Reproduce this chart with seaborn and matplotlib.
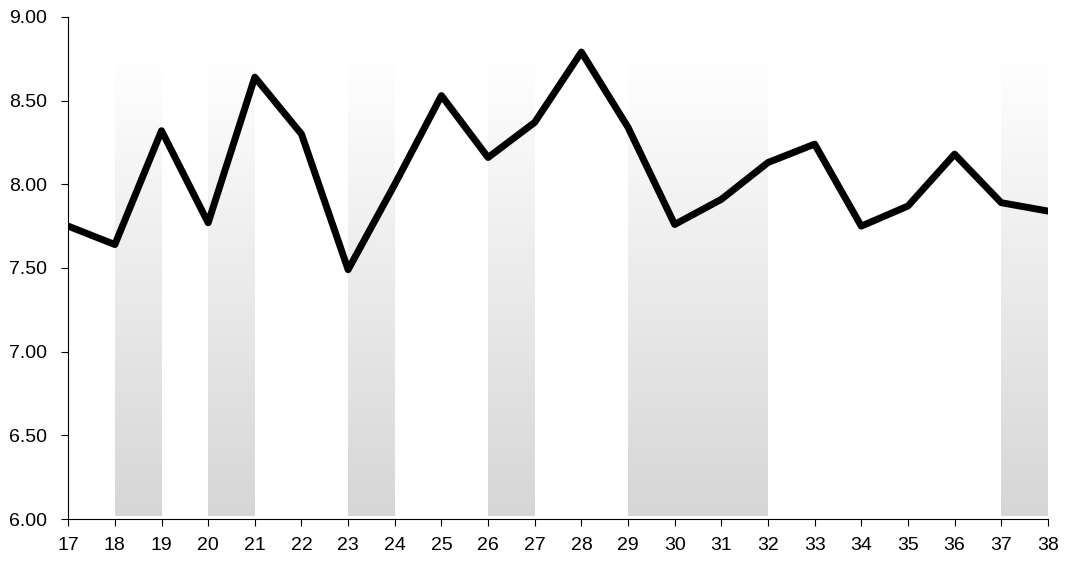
import numpy as np
import pandas as pd
import seaborn as sns
from matplotlib import pyplot as plt
from matplotlib.colors import LinearSegmentedColormap

days = list(range(17, 39))
values = [7.75, 7.64, 8.32, 7.77, 8.64, 8.30, 7.49, 8.00, 8.53, 8.16, 8.37,
          8.79, 8.34, 7.76, 7.91, 8.13, 8.24, 7.75, 7.87, 8.18, 7.89, 7.84]
bands = [(18, 19), (20, 21), (23, 24), (26, 27), (29, 32), (37, 38)]
band_bottom = 6.02
band_top = 8.76

sns.set_style("white")
plt.rcParams['font.family'] = ['Liberation Sans', 'DejaVu Sans']

fig = plt.figure(figsize=(10.66, 5.63), dpi=100)
ax = fig.add_axes([0.064, 0.078, 0.919, 0.892])

# gradient bands, grey at the bottom fading to white at top
cmap = LinearSegmentedColormap.from_list("fade", ["#d6d6d6", "#ffffff"])
grad = np.linspace(0, 1, 256).reshape(-1, 1)
for x0, x1 in bands:
    ax.imshow(grad, cmap=cmap, origin="lower", aspect="auto",
              extent=(x0, x1, band_bottom, band_top), zorder=1)

df = pd.DataFrame({"day": days, "value": values})
sns.lineplot(data=df, x="day", y="value", color="black", linewidth=5, ax=ax, zorder=3)

ax.set_xlim(17, 38)
ax.set_ylim(6, 9)
ax.set_xticks(days)
ax.set_yticks(np.arange(6, 9.01, 0.5))
ax.set_yticklabels([f"{v:.2f}" for v in np.arange(6, 9.01, 0.5)])
ax.set_xlabel("")
ax.set_ylabel("")
for s in ["top", "right"]:
    ax.spines[s].set_visible(False)
for s in ["left", "bottom"]:
    ax.spines[s].set_color("black")
    ax.spines[s].set_linewidth(0.8)
ax.tick_params(axis="both", direction="out", length=5, width=0.8, colors="black",
               labelsize=14, bottom=True, left=True)
ax.tick_params(axis="x", pad=8)
ax.tick_params(axis="y", pad=10)

plt.savefig("out.png", dpi=100)
